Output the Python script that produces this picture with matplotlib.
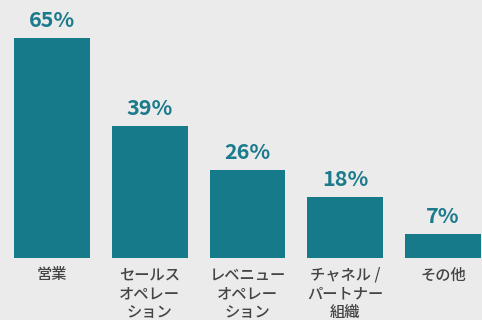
import matplotlib
matplotlib.use("Agg")
import matplotlib.pyplot as plt

categories = ["営業", "セールス\nオペレー\nション", "レベニュー\nオペレー\nション", "チャネル /\nパートナー\n組織", "その他"]
values = [65, 39, 26, 18, 7]
labels = ["65%", "39%", "26%", "18%", "7%"]

plt.rcParams['font.family'] = ['Noto Sans CJK JP', 'DejaVu Sans']

bg = "#ebebeb"
bar_color = "#167a8b"

fig = plt.figure(figsize=(4.82, 3.2), dpi=100, facecolor=bg)
ax = fig.add_axes([0, 62/320, 1, 258/320])
ax.set_facecolor(bg)

x = list(range(len(values)))
ax.bar(x, values, width=0.775, color=bar_color)
for xi, v, lab in zip(x, values, labels):
    ax.annotate(lab, (xi, v), xytext=(0, 5), textcoords="offset points",
                ha="center", va="bottom", fontsize=15.5, fontweight="bold", color="#1b7a8b")
ax.set_xticks(x)
ax.set_xticklabels(categories, fontsize=11, color="#444444", linespacing=1.15,
                   va="top", fontweight="medium")
ax.tick_params(axis="x", length=0, pad=6)
ax.set_yticks([])
for s in ax.spines.values():
    s.set_visible(False)
ax.set_xlim(-0.532, 4.397)
ax.set_ylim(0, 258/3.38)

fig.savefig("out.png", dpi=100, facecolor=bg)
